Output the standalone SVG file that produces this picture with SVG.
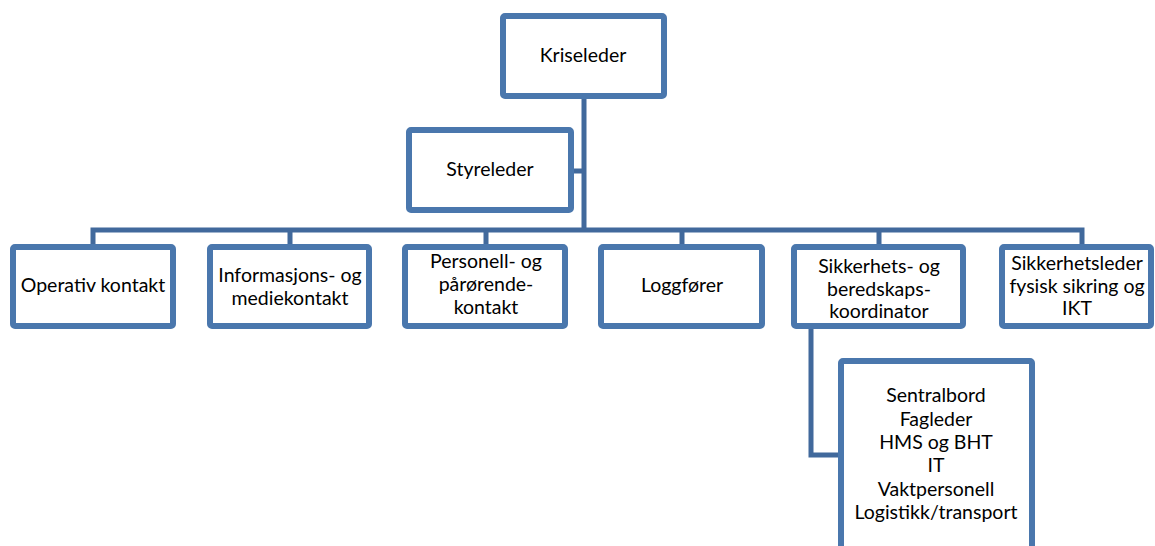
<svg xmlns="http://www.w3.org/2000/svg" width="1155" height="546" viewBox="0 0 1155 546">
<style>
.box{fill:#fff;stroke:#4a77ad;stroke-width:6}
.con{fill:none;stroke:#41699c;stroke-width:5;stroke-linejoin:miter}
text{font-family:Lato,"Liberation Sans",sans-serif;font-size:19.5px;fill:#000;text-anchor:middle}
</style>
<rect width="1155" height="546" fill="#fff"/>
<g id="connectors">
<path class="con" d="M584 96 V230"/>
<path class="con" d="M571 171 H586"/>
<path class="con" d="M93 247 V230 H1082 V247"/>
<path class="con" d="M290 230 V247 M486 230 V247 M682 230 V247 M879 230 V247"/>
<path class="con" d="M811 326 V455 H841"/>
</g>
<g id="kriseleder"><rect class="box" x="503" y="16" width="161" height="80" rx="2"/><text x="583" y="62">Kriseleder</text></g>
<g id="styreleder"><rect class="box" x="409" y="130" width="162" height="80" rx="2"/><text x="490" y="176">Styreleder</text></g>
<g id="operativ"><rect class="box" x="13" y="247" width="160" height="79" rx="2"/><text x="93" y="292">Operativ kontakt</text></g>
<g id="informasjon"><rect class="box" x="210" y="247" width="159" height="79" rx="2"/><text x="290" y="282">Informasjons- og</text><text x="290" y="305">mediekontakt</text></g>
<g id="personell"><rect class="box" x="405" y="247" width="160" height="79" rx="2"/><text x="486" y="268">Personell- og</text><text x="486" y="291">pårørende-</text><text x="486" y="314">kontakt</text></g>
<g id="loggforer"><rect class="box" x="601" y="247" width="161" height="79" rx="2"/><text x="682" y="292">Loggfører</text></g>
<g id="sikkerhet"><rect class="box" x="794" y="247" width="169" height="79" rx="2"/><text x="879" y="273">Sikkerhets- og</text><text x="879" y="296">beredskaps-</text><text x="879" y="318">koordinator</text></g>
<g id="sikkerhetsleder"><rect class="box" x="1002" y="247" width="149" height="79" rx="2"/><text x="1077" y="270">Sikkerhetsleder</text><text x="1077" y="293">fysisk sikring og</text><text x="1077" y="315">IKT</text></g>
<g id="funksjoner"><rect class="box" x="841" y="361" width="191" height="200" rx="2"/><text x="936" y="402">Sentralbord</text><text x="936" y="426">Fagleder</text><text x="936" y="449">HMS og BHT</text><text x="936" y="472">IT</text><text x="936" y="496">Vaktpersonell</text><text x="936" y="519">Logistikk/transport</text></g>
</svg>
